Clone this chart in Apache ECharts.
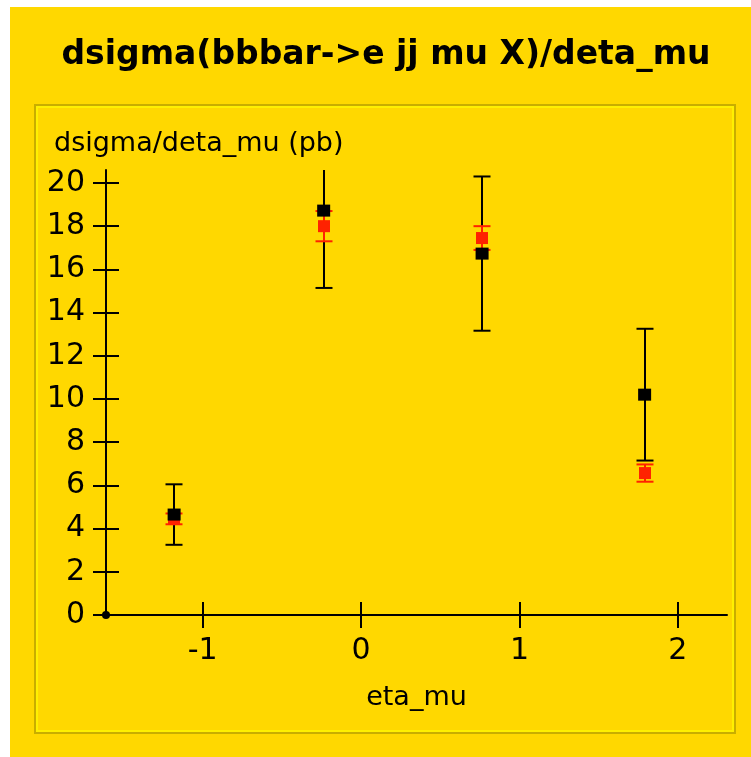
<!DOCTYPE html>
<html><head><meta charset="utf-8">
<script src="https://cdn.jsdelivr.net/npm/echarts@6/dist/echarts.min.js"></script>
<style>html,body{margin:0;padding:0;background:#fff;} #c{width:751px;height:757px;}</style>
</head><body><div id="c"></div>
<script>
const titleText = 'dsigma(bbbar->e jj mu X)/deta_mu';
const xName = 'eta_mu';
const yName = 'dsigma/deta_mu (pb)';
const xMin = -1.61, xMax = 2.31;
const yMin = 0, yMax = 20.6;
const xTicks = [-1, 0, 1, 2];
const yTicks = [0, 2, 4, 6, 8, 10, 12, 14, 16, 18, 20];
const etaPoints = [-1.18, -0.236, 0.764, 1.79];
const dataValues = [4.65, 18.72, 16.73, 10.2];
const dataErrors = [1.4, 3.58, 3.57, 3.05];
const mcValues = [4.45, 18.0, 17.45, 6.57];
const mcErrors = [0.25, 0.7, 0.55, 0.4];

const YELLOW = '#FFD800';
const RED = '#FF2200';
const FONT = 'DejaVu Sans';

function errRender(color, capW, square) {
  return function (params, api) {
    const x = api.value(0), y = api.value(1), e = api.value(2);
    const lo = api.coord([x, y - e]), hi = api.coord([x, y + e]), c = api.coord([x, y]);
    const cs = params.coordSys;
    const top = cs.y, bottom = cs.y + cs.height;
    const px = Math.round(c[0]);
    const yHi = Math.max(hi[1], top), yLo = Math.min(lo[1], bottom);
    const ch = [{type: 'line', shape: {x1: px, y1: yLo, x2: px, y2: yHi}, style: {stroke: color, lineWidth: 2}}];
    if (hi[1] >= top) ch.push({type: 'line', shape: {x1: px - capW / 2, y1: hi[1], x2: px + capW / 2, y2: hi[1]}, style: {stroke: color, lineWidth: 2}});
    if (lo[1] <= bottom) ch.push({type: 'line', shape: {x1: px - capW / 2, y1: lo[1], x2: px + capW / 2, y2: lo[1]}, style: {stroke: color, lineWidth: 2}});
    if (square) ch.push({type: 'rect', shape: {x: px - square / 2, y: c[1] - square / 2, width: square, height: square}, style: {fill: color}});
    return {type: 'group', children: ch};
  };
}

const chart = echarts.init(document.getElementById('c'), null, {renderer: 'canvas'});
const axisTxt = {color: '#000', fontFamily: FONT};
chart.setOption({
  animation: false,
  backgroundColor: 'transparent',
  graphic: [
    {type: 'rect', z: -10, shape: {x: 10, y: 7, width: 741, height: 750}, style: {fill: YELLOW}, silent: true},
    {type: 'rect', z: -9, shape: {x: 35, y: 105, width: 700, height: 628}, style: {fill: 'none', stroke: '#C8AE00', lineWidth: 2}, silent: true},
    {type: 'rect', z: -9, shape: {x: 37, y: 107, width: 696, height: 624}, style: {fill: 'none', stroke: '#FFF000', lineWidth: 2}, silent: true}
  ],
  title: [
    {text: titleText, left: 386, top: 39, padding: 0, textAlign: 'center',
     textStyle: {fontFamily: FONT, fontWeight: 'bold', fontSize: 33, color: '#000'}},
    {text: yName, left: 54, top: 130, padding: 0,
     textStyle: {fontFamily: FONT, fontWeight: 'normal', fontSize: 27, color: '#000'}}
  ],
  grid: {left: 106, right: 24, top: 170, bottom: 142, containLabel: false},
  xAxis: [
    {type: 'value', min: xMin, max: xMax, position: 'bottom',
     axisLine: {onZero: false, lineStyle: {color: '#000', width: 2}},
     axisTick: {show: true, inside: false, length: 13, customValues: xTicks, lineStyle: {color: '#000', width: 2}},
     axisLabel: Object.assign({customValues: xTicks, fontSize: 30, margin: 21}, axisTxt),
     splitLine: {show: false},
     name: xName, nameLocation: 'middle', nameGap: 69,
     nameTextStyle: {fontFamily: FONT, fontSize: 27, color: '#000'}},
    {type: 'value', min: xMin, max: xMax, position: 'bottom',
     axisLine: {show: false, onZero: false},
     axisTick: {show: true, inside: true, length: 13, customValues: xTicks, lineStyle: {color: '#000', width: 2}},
     axisLabel: {show: false}, splitLine: {show: false}}
  ],
  yAxis: [
    {type: 'value', min: yMin, max: yMax, position: 'left',
     axisLine: {show: true, onZero: false, lineStyle: {color: '#000', width: 2}},
     axisTick: {show: true, inside: false, length: 13, customValues: yTicks, lineStyle: {color: '#000', width: 2}},
     axisLabel: Object.assign({customValues: yTicks, fontSize: 30, margin: 21}, axisTxt),
     splitLine: {show: false}},
    {type: 'value', min: yMin, max: yMax, position: 'left',
     axisLine: {show: false, onZero: false},
     axisTick: {show: true, inside: true, length: 13, customValues: yTicks, lineStyle: {color: '#000', width: 2}},
     axisLabel: {show: false}, splitLine: {show: false}}
  ],
  series: [
    {type: 'custom', name: 'data errors', renderItem: errRender('#000', 17, 0),
     data: etaPoints.map((x, i) => [x, dataValues[i], dataErrors[i]]), z: 2},
    {type: 'custom', name: 'MC', renderItem: errRender(RED, 17, 12),
     data: etaPoints.map((x, i) => [x, mcValues[i], mcErrors[i]]), z: 3},
    {type: 'scatter', name: 'data', symbol: 'rect', symbolSize: [13, 12],
     itemStyle: {color: '#000', opacity: 1}, data: etaPoints.map((x, i) => [x, dataValues[i]]), z: 4},
    {type: 'scatter', name: 'origin', symbol: 'circle', symbolSize: 8, clip: false,
     itemStyle: {color: '#000', opacity: 1}, data: [[xMin, yMin]], z: 5}
  ]
});
</script></body></html>
